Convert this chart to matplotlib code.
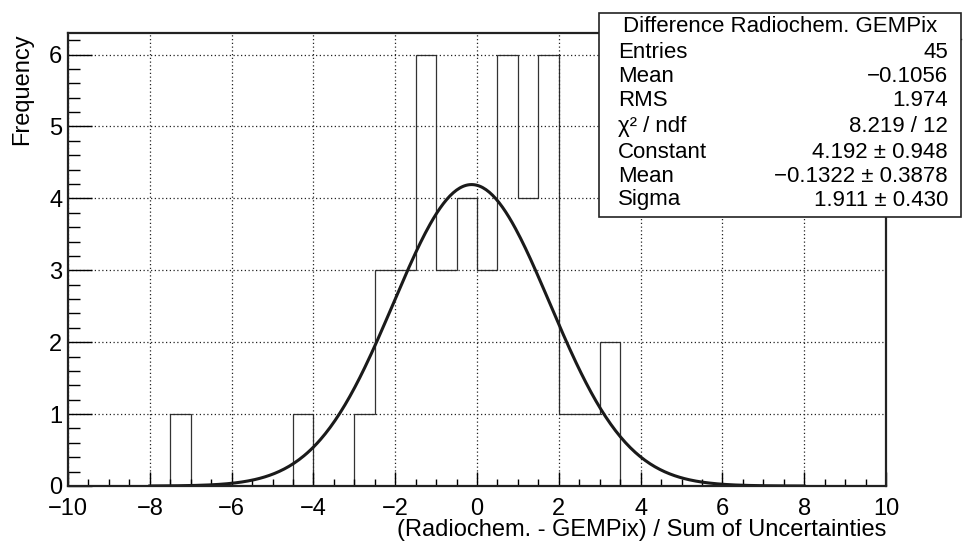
import numpy as np
import matplotlib
matplotlib.use('Agg')
import matplotlib.pyplot as plt
from matplotlib.patches import Rectangle
from matplotlib.ticker import MultipleLocator

plt.rcParams['font.family'] = ['Liberation Sans', 'DejaVu Sans']

# histogram: bin edges -8..8, width 0.5
bin_edges = np.arange(-8.0, 8.01, 0.5)
counts = [0, 1, 0, 0, 0, 0, 0, 1, 0, 0, 1, 3, 3, 6, 3, 4,
          3, 6, 4, 6, 1, 1, 2, 0, 0, 0, 0, 0, 0, 0, 0, 0]

# gaussian fit
fit_const = 4.192
fit_mean = -0.1322
fit_sigma = 1.911

stats_title = 'Difference Radiochem. GEMPix'
stats_names = ['Entries', 'Mean', 'RMS', 'χ² / ndf', 'Constant', 'Mean', 'Sigma']
stats_values = ['45', '\u22120.1056', '1.974', '8.219 / 12', '4.192 ± 0.948',
                '\u22120.1322 ± 0.3878', '1.911 ± 0.430']

W, H = 963, 541
fig = plt.figure(figsize=(W / 100, H / 100), dpi=100)
ax = fig.add_axes([68 / W, 1 - 486 / H, (886 - 68) / W, (486 - 33) / H])

ax.stairs(counts, bin_edges, color='#333333', lw=0.9)
xf = np.linspace(-8, 8, 400)
ax.plot(xf, fit_const * np.exp(-0.5 * ((xf - fit_mean) / fit_sigma) ** 2),
        color='#1a1a1a', lw=2.2)

ax.set_xlim(-10, 10)
ax.set_ylim(0, 6.3)
ax.xaxis.set_major_locator(MultipleLocator(2))
ax.xaxis.set_minor_locator(MultipleLocator(0.5))
ax.yaxis.set_major_locator(MultipleLocator(1))
ax.yaxis.set_minor_locator(MultipleLocator(0.2))
ax.grid(True, which='major', color='#222222', ls=(0, (1, 2)), lw=0.9)
ax.tick_params(axis='x', which='major', direction='in', length=10, width=1, pad=8.5, labelsize=17)
ax.tick_params(axis='x', which='minor', direction='in', length=5, width=1)
ax.tick_params(axis='y', which='major', direction='in', length=17, width=1, pad=4, labelsize=17)
ax.tick_params(axis='y', which='minor', direction='in', length=8.6, width=1)
for sp in ax.spines.values():
    sp.set_linewidth(1.6)
    sp.set_color('#222222')

# axis titles
fig.text(886 / W, 1 - 530 / H, '(Radiochem. - GEMPix) / Sum of Uncertainties',
         ha='right', va='center', fontsize=17)
fig.text(22 / W, 1 - 33 / H, 'Frequency', rotation=90, ha='center', va='top', fontsize=17)

# stats box
bx0, bx1, by0, by1, bsep = 599, 961, 13, 217, 39
fig.patches.append(Rectangle((bx0 / W, 1 - by1 / H), (bx1 - bx0) / W, (by1 - by0) / H,
                             transform=fig.transFigure, fc='white', ec='#222222',
                             lw=1.2, zorder=5))
fig.add_artist(plt.Line2D([bx0 / W, bx1 / W], [1 - bsep / H, 1 - bsep / H],
                          transform=fig.transFigure, color='#222222', lw=1))
fig.text((bx0 + bx1) / 2 / W, 1 - 26 / H, stats_title, ha='center', va='center',
         fontsize=16, zorder=6)
row_y = [52, 77, 101, 126, 152, 177, 200]
for name, val, yy in zip(stats_names, stats_values, row_y):
    fig.text(618 / W, 1 - yy / H, name, ha='left', va='center', fontsize=16, zorder=6)
    fig.text(948 / W, 1 - yy / H, val, ha='right', va='center', fontsize=16, zorder=6)

fig.savefig('out.png', dpi=100)
